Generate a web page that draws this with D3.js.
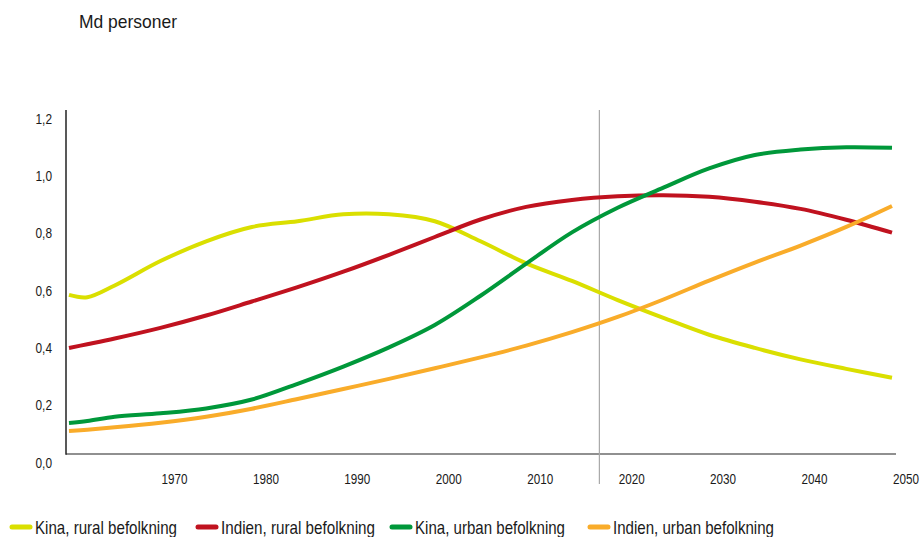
<!DOCTYPE html>
<html>
<head>
<meta charset="utf-8">
<script src="https://cdn.jsdelivr.net/npm/d3@7"></script>
<style>
  html, body { margin: 0; padding: 0; background: #fff; }
  svg { display: block; }
  text { font-family: "Liberation Sans", Arial, sans-serif; fill: #1a1a1a; }
</style>
</head>
<body>
<svg id="chart" width="920" height="537"></svg>
<script>
// Years sampled for every series
const years = [1960, 1962, 1965, 1970, 1975, 1980, 1985, 1990, 1995, 2000, 2005, 2010, 2015, 2020, 2025, 2030, 2035, 2040, 2045, 2050];

// Population, billions
const kinaRural   = [0.555, 0.547, 0.588, 0.673, 0.742, 0.792, 0.812, 0.836, 0.836, 0.812, 0.742, 0.665, 0.604, 0.537, 0.475, 0.416, 0.370, 0.330, 0.297, 0.266];
const indienRural = [0.370, 0.383, 0.403, 0.440, 0.483, 0.532, 0.582, 0.636, 0.695, 0.757, 0.818, 0.862, 0.886, 0.899, 0.903, 0.897, 0.880, 0.855, 0.817, 0.772];
const kinaUrban   = [0.108, 0.115, 0.130, 0.142, 0.159, 0.190, 0.245, 0.305, 0.372, 0.450, 0.552, 0.664, 0.773, 0.859, 0.929, 0.996, 1.043, 1.062, 1.070, 1.068];
const indienUrban = [0.080, 0.085, 0.093, 0.109, 0.130, 0.158, 0.192, 0.227, 0.262, 0.299, 0.337, 0.378, 0.425, 0.478, 0.539, 0.605, 0.668, 0.727, 0.792, 0.865];

const seriesNames = ["Kina, rural befolkning", "Indien, rural befolkning", "Kina, urban befolkning", "Indien, urban befolkning"];
const seriesColors = ["#dadf00", "#c0121f", "#00983a", "#f9ac2a"];
const seriesValues = [kinaRural, indienRural, kinaUrban, indienUrban];

const xTicks = [1970, 1980, 1990, 2000, 2010, 2020, 2030, 2040, 2050];
const yTicks = [0, 0.2, 0.4, 0.6, 0.8, 1.0, 1.2];
const markerYear = 2018;

const svg = d3.select("#chart");

const x = d3.scaleLinear().domain([1960, 2050]).range([69, 892]);
const y = d3.scaleLinear().domain([0, 1.2]).range([454, 110]);

// Condensed look: squeeze each label to a fixed advance
function squeeze(sel, width) {
  sel.attr("textLength", width).attr("lengthAdjust", "spacingAndGlyphs");
}

// Unit title
svg.append("text").attr("x", 79).attr("y", 28)
  .attr("font-size", 19).text("Md personer")
  .call(squeeze, 98);

// Y axis labels (no ticks, labels hang just below their value)
const yAxis = d3.axisLeft(y).tickValues(yTicks).tickSize(0).tickPadding(0)
  .tickFormat(d => d3.format(".1f")(d).replace(".", ","));
const gy = svg.append("g").attr("transform", "translate(52,0)").call(yAxis);
gy.select(".domain").remove();
gy.selectAll("text")
  .attr("dy", 13).attr("font-size", 14).attr("fill", "#1a1a1a")
  .style("font-family", "'Liberation Sans', Arial, sans-serif")
  .call(squeeze, 16.5);

// X axis labels, narrowed horizontally around each tick
const xAxis = d3.axisBottom(x).tickValues(xTicks).tickSize(0).tickPadding(0)
  .tickFormat(d3.format("d"));
const gx = svg.append("g").attr("transform", "translate(13.5,0)").call(xAxis);
gx.select(".domain").remove();
gx.selectAll("text")
  .attr("y", 484).attr("dy", 0).attr("font-size", 15).attr("fill", "#1a1a1a")
  .attr("transform", "scale(0.78,1)")
  .style("font-family", "'Liberation Sans', Arial, sans-serif");

// Axis lines
svg.append("line").attr("x1", 66).attr("x2", 896).attr("y1", 454).attr("y2", 454)
  .attr("stroke", "#6b6b6b").attr("stroke-width", 1.5);
svg.append("line").attr("x1", 66).attr("x2", 66).attr("y1", 110).attr("y2", 454.75)
  .attr("stroke", "#222").attr("stroke-width", 1.5);

// Marker for the current year
svg.append("line").attr("x1", x(markerYear)).attr("x2", x(markerYear))
  .attr("y1", 110).attr("y2", 484)
  .attr("stroke", "#a8a8a8").attr("stroke-width", 1.2);

// Series lines
const line = d3.line()
  .x((d, i) => x(years[i]))
  .y(d => y(d))
  .curve(d3.curveCatmullRom.alpha(0.5));

seriesValues.forEach((vals, k) => {
  svg.append("path").datum(vals)
    .attr("d", line)
    .attr("fill", "none")
    .attr("stroke", seriesColors[k])
    .attr("stroke-width", 4)
    .attr("stroke-linejoin", "round");
});

// Legend
const legendX = [10, 196, 390, 588];
const legendW = [142, 154, 150, 161];
seriesNames.forEach((name, k) => {
  const g = svg.append("g").attr("transform", `translate(${legendX[k]},527)`);
  g.append("line").attr("x1", 2).attr("x2", 20).attr("y1", 0).attr("y2", 0)
    .attr("stroke", seriesColors[k]).attr("stroke-width", 5).attr("stroke-linecap", "round");
  g.append("text").attr("x", 25).attr("y", 6.5).attr("font-size", 19).text(name)
    .call(squeeze, legendW[k]);
});
</script>
</body>
</html>
